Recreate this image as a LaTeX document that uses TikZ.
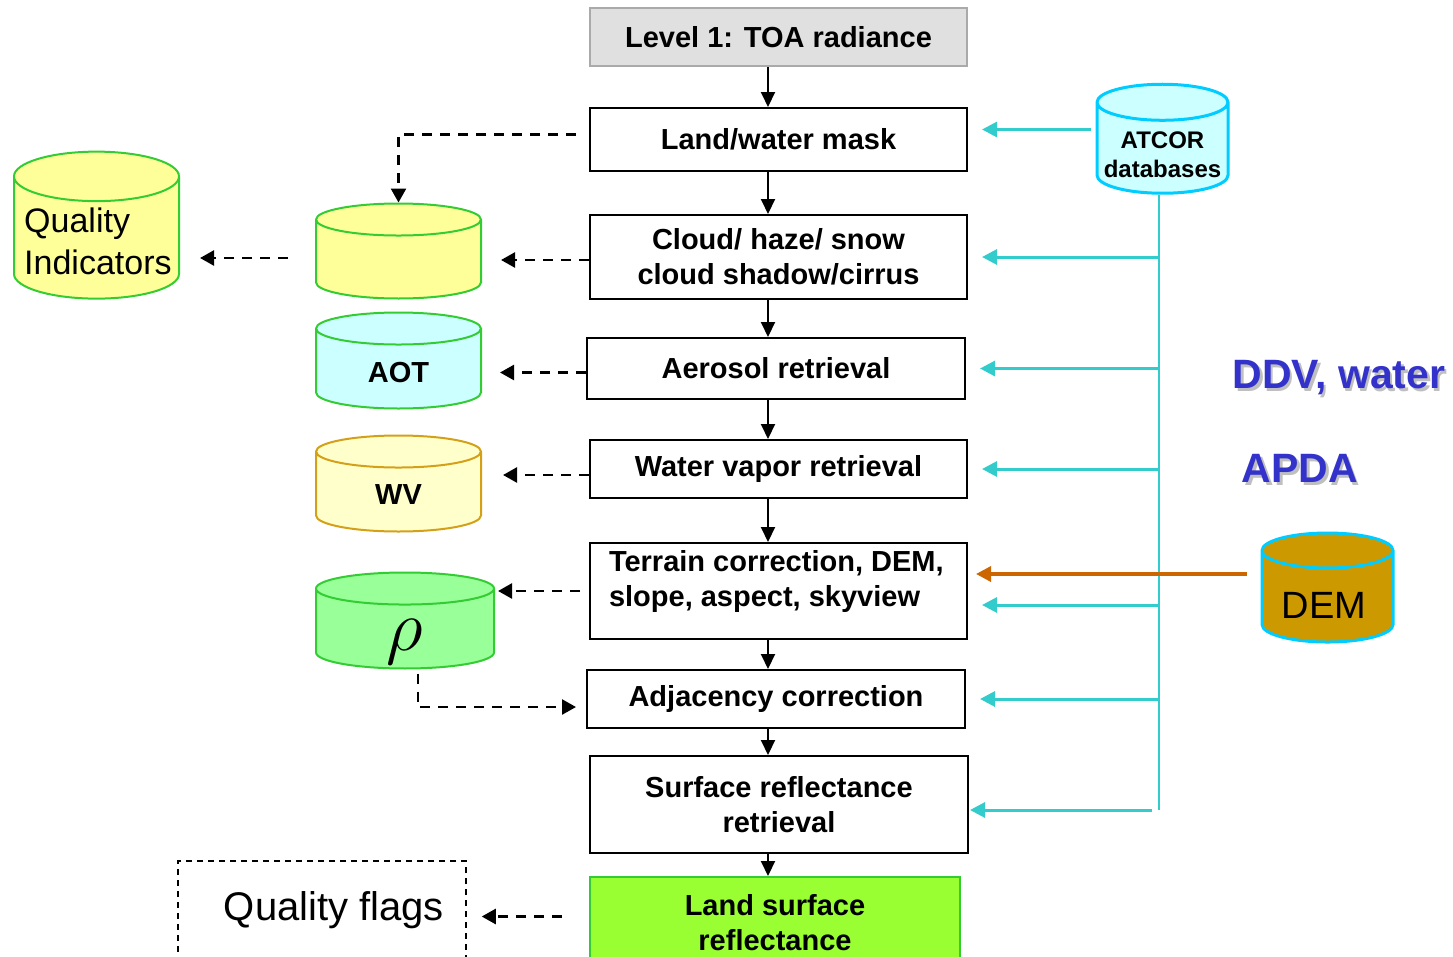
\documentclass[tikz,border=0pt]{standalone}
\usepackage{fontspec}
\setmainfont{Liberation Sans}
\usetikzlibrary{shapes.geometric,arrows.meta}

\definecolor{cyanline}{HTML}{33CCCC}
\definecolor{dbgreen}{HTML}{33CC33}
\definecolor{dbyellow}{HTML}{FFFF99}
\definecolor{dbcyan}{HTML}{CCFFFF}
\definecolor{dbcream}{HTML}{FFFFCC}
\definecolor{dbgold}{HTML}{D4A017}
\definecolor{dbrho}{HTML}{99FF99}
\definecolor{atcorrim}{HTML}{00CCFF}
\definecolor{demfill}{HTML}{CC9900}
\definecolor{lsrfill}{HTML}{99FF33}
\definecolor{demline}{HTML}{CC6600}
\definecolor{apdablue}{HTML}{3333CC}
\definecolor{lonefill}{HTML}{E0E0E0}
\definecolor{loneline}{HTML}{AAAAAA}

\newcommand{\shadowed}[1]{\makebox[0pt][l]{\hspace{2.5pt}\raisebox{-2.5pt}{\color{black!25}#1}}#1}

\tikzset{
  stepbox/.style={draw, line width=2pt, inner sep=0pt, align=center,
    font=\fontsize{29}{35}\selectfont\bfseries},
  % text width fixes the ellipse: its radius is shape aspect x half the text width
  db/.style 2 args={cylinder, shape border rotate=90, draw=dbgreen, line width=2pt,
    inner sep=0pt, minimum width=#1pt, text width=#1pt, minimum height=#2pt},
  dbtext/.style={inner sep=0pt, font=\fontsize{29}{35}\selectfont\bfseries, align=center},
  flow/.style={-{Triangle[length=15pt,width=14pt]}, line width=2pt},
  dashflow/.style={-{Triangle[length=14pt,width=15pt]}, line width=2.5pt,
    dash pattern=on 10pt off 8pt},
  feed/.style={-{Triangle[length=15pt,width=15pt]}, line width=3pt, draw=cyanline},
}

\begin{document}
\begin{tikzpicture}[x=1pt,y=-1pt]
\clip (0,0) rectangle (1453,956);

% processing chain
\node[stepbox, draw=loneline, fill=lonefill, minimum width=377pt, minimum height=58pt] (l1) at (778.5,37) {Level 1: TOA radiance};
\node[stepbox, minimum width=377pt, minimum height=63pt] (lwm) at (778.5,139.5) {Land/water mask};
\node[stepbox, minimum width=377pt, minimum height=84pt] (cloud) at (778.5,257) {Cloud/ haze/ snow\\cloud shadow/cirrus};
\node[stepbox, minimum width=378pt, minimum height=61pt] (aero) at (776,368.5) {Aerosol retrieval};
\node[stepbox, minimum width=377pt, minimum height=58pt] (wvr) at (778.5,469) {Water vapor retrieval};
\node[stepbox, minimum width=377pt, minimum height=96pt] (terr) at (778.5,591) {};
\node[stepbox, draw=none, anchor=north west, align=left] (terrtext) at (608,549) {Terrain correction, DEM,\\slope, aspect, skyview};
\node[stepbox, minimum width=378pt, minimum height=58pt] (adj) at (776,699) {Adjacency correction};
\node[stepbox, minimum width=378pt, minimum height=97pt] (surf) at (779,804.5) {Surface reflectance\\retrieval};
\node[stepbox, draw=dbgreen, fill=lsrfill, minimum width=370pt, minimum height=91pt] (lsr) at (775,922.5) {Land surface\\reflectance};

% products
\node[db={165}{147}, shape aspect=0.3, fill=dbyellow] (qi) at (96.5,238) {};
\node[dbtext, anchor=west, align=left, font=\fontsize{34}{42}\selectfont] (qitext) at (24,241) {Quality\\Indicators};
\node[db={165}{95}, shape aspect=0.194, fill=dbyellow] (ycyl) at (398.5,259.5) {};
\node[db={165}{96}, shape aspect=0.194, fill=dbcyan] (aot) at (398.5,369) {};
\node[dbtext] (aottext) at (398.5,373) {AOT};
\node[db={165}{96}, shape aspect=0.194, draw=dbgold, fill=dbcream] (wv) at (398.5,492) {};
\node[dbtext] (wvtext) at (398.5,495) {WV};
\node[db={178}{96}, shape aspect=0.18, fill=dbrho] (rho) at (405,629) {};
\node[dbtext] (rhotext) at (405,642) {\scalebox{2.9}{$\rho$}};
\node[draw, line width=1.5pt, dash pattern=on 6pt off 5pt, minimum width=288pt, minimum height=98pt,
  font=\fontsize{40}{44}\selectfont] (qf) at (322,910) {\hspace*{24pt}Quality flags};

% auxiliary data
\node[db={131}{109}, shape aspect=0.275, draw=atcorrim, line width=3pt, fill=dbcyan] (atcor) at (1162.5,148.5) {};
\node[dbtext, font=\fontsize{24}{29}\selectfont\bfseries] (atcortext) at (1162.5,155) {ATCOR\\databases};
\node[db={131}{109}, shape aspect=0.267, draw=atcorrim, line width=3pt, fill=demfill] (dem) at (1327.5,597) {};
\node[dbtext, font=\fontsize{38}{42}\selectfont] (demtext) at (1324,605) {DEM};
\node[text=apdablue, font=\fontsize{41}{45}\selectfont\bfseries] (ddv) at (1339,379) {\shadowed{DDV, water}};
\node[text=apdablue, font=\fontsize{41}{45}\selectfont\bfseries] (apda) at (1300,470) {\shadowed{APDA}};

\coordinate (spine) at (768,0);
\coordinate (trunk) at (1159,810);

% main flow
\foreach \a/\b in {l1/lwm, lwm/cloud, cloud/aero, aero/wvr, wvr/terr, terr/adj, adj/surf, surf/lsr}
  \draw[flow] (\a.south -| spine) -- (\b.north -| spine);

% outputs
\draw[dashflow] ([xshift=-13pt,yshift=5pt]lwm.west) -| (ycyl.north);
\draw[dashflow, shorten >=19pt] ([yshift=-3pt]cloud.west) -- ([yshift=-3pt]cloud.west -| ycyl.east);
\draw[dashflow, shorten <=27pt, shorten >=20pt] ([yshift=-1pt]cloud.west -| ycyl.west) -- ([yshift=-1pt]cloud.west -| qi.east);
\draw[dashflow, shorten >=18pt] ([yshift=-4pt]aero.west) -- ([yshift=-4pt]aero.west -| aot.east);
\draw[dashflow, shorten >=21pt] ([yshift=-6pt]wvr.west) -- ([yshift=-6pt]wvr.west -| wv.east);
\draw[dashflow, shorten <=9pt, shorten >=3pt] (terr.west) -- (terr.west -| rho.east);
\draw[dashflow, shorten >=10pt] ([xshift=13pt,yshift=-4pt]rho.south) |- ([yshift=-8pt]adj.west);
\draw[dashflow, shorten <=27pt, shorten >=15pt] ([yshift=6pt]lsr.west) -- ([yshift=6pt]lsr.west -| qf.east);

% database inputs
\draw[feed, shorten <=5pt, shorten >=14pt] ([yshift=10pt]lwm.east -| atcor.west) -- ([yshift=10pt]lwm.east);
\draw[cyanline, line width=2.5pt] (atcor.south -| trunk) -- (trunk);
\foreach \n in {cloud, aero, wvr, adj}
  \draw[feed, shorten >=14pt] (\n.east -| trunk) -- (\n.east);
\draw[feed, shorten >=14pt] ([yshift=-14pt]terr.east -| trunk) -- ([yshift=-14pt]terr.east);
\draw[feed, shorten <=7pt, shorten >=1pt] (trunk) -- (trunk -| surf.east);
\draw[-{Triangle[length=15pt,width=15pt]}, line width=3.5pt, draw=demline, shorten <=14pt, shorten >=8pt]
  ([yshift=17pt]dem.west |- terr.east) -- ([yshift=17pt]terr.east);
\end{tikzpicture}
\end{document}
